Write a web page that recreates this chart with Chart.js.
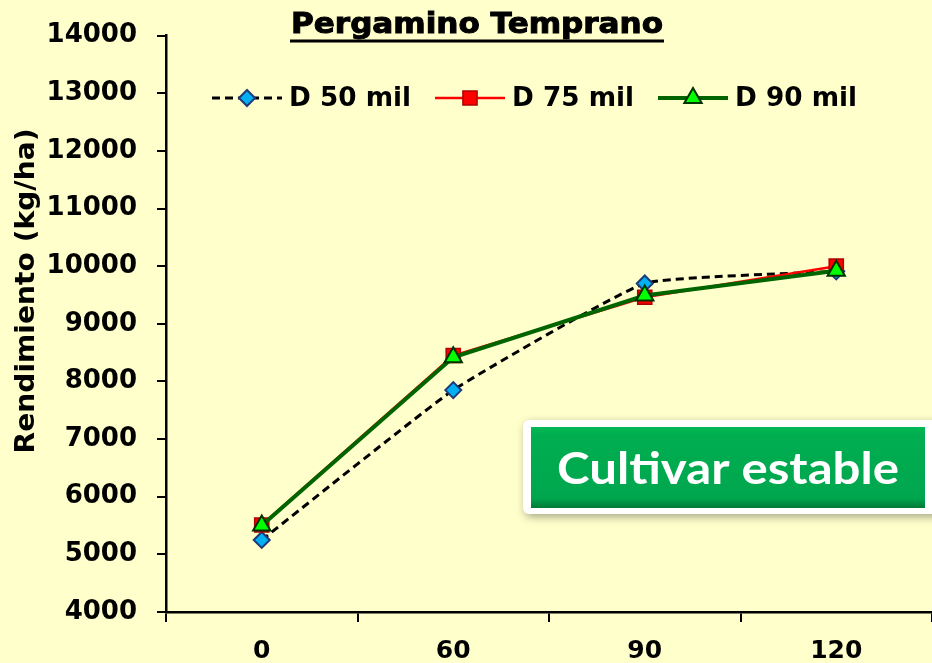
<!DOCTYPE html>
<html>
<head>
<meta charset="utf-8">
<script src="https://cdn.jsdelivr.net/npm/chart.js@4.4.1/dist/chart.umd.min.js"></script>
<style>
  html, body { margin: 0; padding: 0; background: #FFFFCC; }
  #wrap { width: 932px; height: 663px; }
</style>
</head>
<body>
<div id="wrap"><canvas id="chart" width="932" height="663"></canvas></div>
<script>
// data
const categories = ['0', '60', '90', '120'];
const seriesNames = ['D 50 mil', 'D 75 mil', 'D 90 mil'];
const d50 = [5250, 7850, 9700, 9910];
const d75 = [5510, 8450, 9460, 10000];
const d90 = [5500, 8420, 9490, 9920];
const yMin = 4000, yMax = 14000, yStep = 1000;
const chartTitle = 'Pergamino Temprano';
const yTitle = 'Rendimiento (kg/ha)';
const note = 'Cultivar estable';

const FONT = '"DejaVu Sans", Verdana, sans-serif';

// draw text squeezed/stretched to a given width (the source image is stretched)
function fitText(ctx, text, cx, y, width, stroke) {
    const w = ctx.measureText(text).width;
    ctx.save();
    ctx.translate(cx, y);
    ctx.scale(width / w, 1);
    ctx.textAlign = 'center';
    ctx.fillText(text, 0, 0);
    if (stroke) {
        ctx.strokeStyle = ctx.fillStyle;
        ctx.lineWidth = stroke;
        ctx.strokeText(text, 0, 0);
    }
    ctx.restore();
}

const overlay = {
    id: 'overlay',
    beforeDraw(chart) {
        const ctx = chart.ctx;
        ctx.save();
        ctx.fillStyle = '#FFFFCC';
        ctx.fillRect(0, 0, chart.width, chart.height);
        ctx.restore();
    },
    afterDraw(chart) {
        const ctx = chart.ctx;
        ctx.save();

        // title, underlined
        ctx.fillStyle = '#000';
        ctx.font = 'bold 28px ' + FONT;
        ctx.textBaseline = 'alphabetic';
        fitText(ctx, chartTitle, 477, 33, 372, 1);
        ctx.fillRect(290, 39.5, 374, 3);

        // y axis title
        ctx.save();
        ctx.translate(27, 291);
        ctx.rotate(-Math.PI / 2);
        ctx.font = 'bold 27px ' + FONT;
        ctx.textBaseline = 'middle';
        fitText(ctx, yTitle, 0, 0, 325);
        ctx.restore();

        // legend: line sample + marker + label
        let x = 212;
        const ly = 98;
        chart.data.datasets.forEach(ds => {
            ctx.save();
            ctx.strokeStyle = ds.borderColor;
            ctx.lineWidth = ds.borderWidth;
            ctx.setLineDash(ds.borderDash || []);
            ctx.beginPath();
            ctx.moveTo(x, ly);
            ctx.lineTo(x + 70, ly);
            ctx.stroke();
            ctx.setLineDash([]);
            ctx.fillStyle = ds.pointBackgroundColor;
            ctx.strokeStyle = ds.pointBorderColor;
            ctx.lineWidth = ds.pointBorderWidth;
            Chart.helpers.drawPoint(ctx, {
                pointStyle: ds.pointStyle, radius: ds.pointRadius,
                rotation: 0, borderWidth: ds.pointBorderWidth
            }, x + 35, ly);
            ctx.restore();
            ctx.fillStyle = '#000';
            ctx.font = 'bold 27px ' + FONT;
            ctx.textBaseline = 'middle';
            fitText(ctx, ds.label, x + 77 + 61, ly + 1, 122);
            x += 77 + 122 + 24;
        });

        // "Cultivar estable" box
        ctx.save();
        ctx.shadowColor = 'rgba(0,0,0,0.35)';
        ctx.shadowBlur = 8;
        ctx.shadowOffsetX = 2;
        ctx.shadowOffsetY = 3;
        ctx.fillStyle = '#FFFFFF';
        ctx.beginPath();
        ctx.roundRect(523, 420, 430, 94, 6);
        ctx.fill();
        ctx.restore();
        const g = ctx.createLinearGradient(0, 427, 0, 508);
        g.addColorStop(0, '#00B853');
        g.addColorStop(0.1, '#00AE50');
        g.addColorStop(0.88, '#00A64E');
        g.addColorStop(1, '#007A38');
        ctx.fillStyle = g;
        ctx.fillRect(531, 427, 394, 81);
        ctx.fillStyle = '#FFFFFF';
        ctx.font = 'bold 44px Lato, sans-serif';
        ctx.textBaseline = 'alphabetic';
        fitText(ctx, note, 728, 484, 342);

        ctx.restore();
    }
};

const chart = new Chart(document.getElementById('chart').getContext('2d'), {
    type: 'line',
    data: {
        labels: categories,
        datasets: [{
            label: seriesNames[0],
            data: d50,
            borderColor: '#000000',
            borderWidth: 3,
            borderDash: [8, 5],
            tension: 0.12,
            pointStyle: 'rectRot',
            pointRadius: 8,
            pointBackgroundColor: '#00B0F0',
            pointBorderColor: '#1F3A78',
            pointBorderWidth: 2,
            order: 3
        }, {
            label: seriesNames[1],
            data: d75,
            borderColor: '#FF0000',
            borderWidth: 2.5,
            tension: 0,
            pointStyle: 'rect',
            pointRadius: 10,
            pointBackgroundColor: '#FF0000',
            pointBorderColor: '#B00000',
            pointBorderWidth: 1.5,
            order: 2
        }, {
            label: seriesNames[2],
            data: d90,
            borderColor: '#006400',
            borderWidth: 4,
            tension: 0,
            pointStyle: 'triangle',
            pointRadius: 10,
            pointBackgroundColor: '#00FF00',
            pointBorderColor: '#003300',
            pointBorderWidth: 2,
            order: 1
        }]
    },
    options: {
        responsive: false,
        animation: false,
        devicePixelRatio: 1,
        layout: { autoPadding: false, padding: { top: 35, right: 0, left: 0, bottom: 0 } },
        plugins: {
            legend: { display: false },
            title: { display: false },
            tooltip: { enabled: false }
        },
        scales: {
            x: {
                offset: true,
                grid: { offset: true, drawOnChartArea: false, color: '#000', lineWidth: 2, tickLength: 10 },
                border: { color: '#000', width: 2.5 },
                ticks: {
                    color: '#000',
                    font: { family: FONT, size: 25, weight: 'bold' },
                    padding: 14,
                    maxRotation: 0,
                    autoSkip: false
                },
                afterFit(scale) {
                    scale.height = 51;
                    scale.paddingLeft = 0;
                    scale.paddingRight = 0;
                }
            },
            y: {
                min: yMin,
                max: yMax,
                grid: { drawOnChartArea: false, color: '#000', lineWidth: 2, tickLength: 9 },
                border: { color: '#000', width: 2.5 },
                ticks: {
                    stepSize: yStep,
                    color: '#000',
                    font: { family: FONT, size: 26, weight: 'bold' },
                    padding: 20,
                    callback: v => String(v)
                },
                afterFit(scale) { scale.width = 166; }
            }
        }
    },
    plugins: [overlay]
});

// redraw once the local fonts are ready
document.fonts.load('bold 44px Lato').then(() => chart.draw());
</script>
</body>
</html>
